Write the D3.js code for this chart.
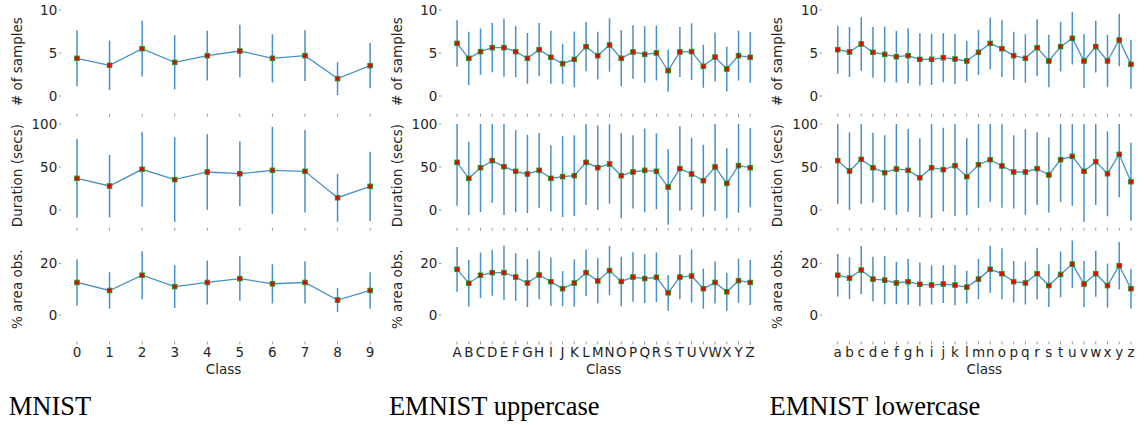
<!DOCTYPE html>
<html>
<head>
    <meta charset="UTF-8">
    <title>Per-class statistics</title>
    <style>
        body {
            margin: 0;
            padding: 0;
            background-color: #ffffff;
        }
        text {
            font-family: "DejaVu Sans", sans-serif;
            fill: #262626;
        }
        .title {
            font-family: "Liberation Serif", "Times New Roman", serif;
            font-size: 26.5px;
            fill: #000000;
        }
    </style>
    <script src="https://d3js.org/d3.v7.min.js"></script>
</head>
<body>
    <div id="chart"></div>

    <script>
        // classes
        var mnistClasses = ["0", "1", "2", "3", "4", "5", "6", "7", "8", "9"];
        var upperClasses = "ABCDEFGHIJKLMNOPQRSTUVWXYZ".split("");
        var lowerClasses = "abcdefghijklmnopqrstuvwxyz".split("");

        // MNIST
        var mnistSamplesMean = [4.38, 3.57, 5.50, 3.91, 4.69, 5.23, 4.38, 4.69, 2.02, 3.53];
        var mnistSamplesStd  = [3.26, 2.87, 3.24, 3.14, 2.89, 3.06, 2.81, 2.95, 1.90, 2.62];
        var mnistDurationMean = [36.8, 27.9, 47.3, 35.3, 44.2, 42.2, 46.1, 45.0, 14.3, 27.5];
        var mnistDurationStd  = [45.7, 36.4, 43.6, 49.2, 43.8, 37.8, 50.8, 48.0, 27.9, 40.3];
        var mnistAreaMean = [12.6, 9.5, 15.4, 11.0, 12.6, 14.1, 12.1, 12.6, 5.8, 9.5];
        var mnistAreaStd  = [8.97, 7.1, 9.3, 8.3, 8.5, 8.6, 7.6, 8.1, 4.65, 7.05];

        // EMNIST uppercase
        var upperSamplesMean = [6.12, 4.38, 5.16, 5.62, 5.62, 5.16, 4.38, 5.39, 4.50, 3.76, 4.26, 5.74, 4.69,
                                5.93, 4.38, 5.12, 4.84, 5.00, 2.95, 5.12, 5.16, 3.45, 4.53, 3.14, 4.69, 4.50];
        var upperSamplesStd  = [2.70, 3.10, 2.70, 2.87, 3.37, 2.97, 2.95, 3.10, 3.08, 2.33, 3.24, 2.87, 2.77,
                                3.12, 3.26, 3.10, 3.26, 3.20, 2.45, 2.90, 3.30, 2.50, 2.85, 2.63, 2.89, 2.95];
        var upperDurationMean = [55.4, 36.8, 49.2, 57.4, 50.4, 45.0, 41.9, 46.1, 36.8, 38.8, 39.9, 55.4, 49.2,
                                 53.5, 39.9, 44.2, 46.1, 45.0, 26.7, 48.1, 41.9, 34.1, 50.0, 31.0, 51.6, 49.2];
        var upperDurationStd  = [50.4, 42.5, 51.5, 48.9, 56.2, 47.7, 45.5, 43.4, 38.4, 46.9, 46.9, 49.6, 49.2,
                                 46.1, 49.4, 42.6, 48.6, 44.2, 43.8, 49.2, 42.2, 41.9, 51.2, 40.7, 54.7, 46.1];
        var upperAreaMean = [17.7, 12.3, 15.4, 16.4, 16.4, 14.7, 12.4, 15.5, 12.9, 10.2, 12.4, 16.4, 13.2,
                             17.2, 13.0, 14.7, 14.1, 14.6, 8.6, 14.7, 15.1, 10.2, 12.6, 9.0, 13.3, 12.6];
        var upperAreaStd  = [8.65, 9.0, 8.8, 8.9, 10.45, 9.2, 9.3, 9.4, 9.35, 6.8, 9.15, 9.0, 8.75,
                             9.5, 9.55, 9.55, 9.4, 9.55, 6.9, 8.55, 10.3, 7.75, 8.1, 7.35, 8.55, 8.7];

        // EMNIST lowercase
        var lowerSamplesMean = [5.39, 5.12, 6.05, 5.08, 4.84, 4.57, 4.69, 4.26, 4.26, 4.46, 4.30, 4.07, 5.08,
                                6.12, 5.50, 4.69, 4.38, 5.62, 4.07, 5.74, 6.71, 4.07, 5.74, 4.07, 6.51, 3.68];
        var lowerSamplesStd  = [2.79, 2.90, 3.12, 2.95, 3.25, 3.00, 3.20, 3.04, 2.97, 2.85, 2.91, 2.35, 2.62,
                                3.00, 3.30, 2.79, 2.81, 3.31, 3.06, 2.89, 3.05, 3.14, 3.02, 3.04, 3.04, 2.85];
        var lowerDurationMean = [57.4, 45.3, 58.9, 49.2, 43.4, 47.7, 46.1, 37.6, 49.2, 46.9, 51.6, 38.8, 52.7,
                                 58.5, 51.2, 44.2, 44.2, 48.1, 40.7, 58.5, 62.4, 45.0, 56.2, 42.2, 64.7, 32.9];
        var lowerDurationStd  = [50.4, 45.2, 52.3, 40.7, 43.4, 53.5, 48.4, 45.7, 58.9, 48.6, 58.6, 44.8, 50.0,
                                 48.8, 48.5, 42.6, 49.6, 42.2, 43.6, 48.8, 57.4, 58.6, 50.4, 49.4, 50.0, 45.4];
        var lowerAreaMean = [15.4, 14.3, 17.4, 13.9, 13.5, 12.4, 12.9, 11.9, 11.6, 12.0, 11.6, 10.8, 13.9,
                             17.7, 16.0, 12.9, 12.4, 16.0, 11.4, 15.7, 19.7, 12.0, 16.0, 11.4, 19.1, 10.2];
        var lowerAreaStd  = [8.25, 8.05, 9.3, 8.7, 9.35, 8.2, 8.9, 8.45, 7.55, 7.3, 7.8, 6.3, 7.8,
                             9.05, 9.85, 8.05, 8.3, 10.0, 8.25, 8.85, 9.15, 8.9, 8.9, 8.5, 9.2, 7.65];

        var titles = ["MNIST", "EMNIST uppercase", "EMNIST lowercase"];
        var rowLabels = ["# of samples", "Duration (secs)", "% area obs."];
        var rowDomains = [[-2, 10], [-20, 100], [-10, 30]];
        var rowTicks = [[0, 5, 10], [0, 50, 100], [0, 20]];

        var columns = [
            {classes: mnistClasses, rows: [
                [mnistSamplesMean, mnistSamplesStd],
                [mnistDurationMean, mnistDurationStd],
                [mnistAreaMean, mnistAreaStd]]},
            {classes: upperClasses, rows: [
                [upperSamplesMean, upperSamplesStd],
                [upperDurationMean, upperDurationStd],
                [upperAreaMean, upperAreaStd]]},
            {classes: lowerClasses, rows: [
                [lowerSamplesMean, lowerSamplesStd],
                [lowerDurationMean, lowerDurationStd],
                [lowerAreaMean, lowerAreaStd]]}
        ];

        var width = 1144, height = 425;
        var colLeft = [62.3, 442.4, 823.1],
            colWidth = 322.5;
        var rowBox = [[10, 113.2], [124, 227.2], [237.5, 340.9]];

        var lineColor = "#4a90c8",
            tickColor = "#9a9a9a";

        var svg = d3.select("#chart").append("svg")
            .attr("width", width)
            .attr("height", height);

        var defs = svg.append("defs");

        columns.forEach(function (col, c) {
            var n = col.classes.length;
            var pad = 0.05 * (n - 1);
            var x = d3.scaleLinear()
                .domain([-pad, n - 1 + pad])
                .range([colLeft[c], colLeft[c] + colWidth]);

            col.rows.forEach(function (row, r) {
                var mean = row[0], std = row[1];
                var top = rowBox[r][0], bottom = rowBox[r][1];
                var y = d3.scaleLinear()
                    .domain(rowDomains[r])
                    .range([bottom, top]);

                var clipId = "clip" + c + "_" + r;
                defs.append("clipPath").attr("id", clipId)
                    .append("rect")
                    .attr("x", colLeft[c])
                    .attr("y", top)
                    .attr("width", colWidth)
                    .attr("height", bottom - top);

                var g = svg.append("g");

                // y ticks
                var yt = g.append("g").selectAll("g")
                    .data(rowTicks[r])
                    .enter().append("g");
                yt.append("line")
                    .attr("x1", colLeft[c] - 3.5)
                    .attr("x2", colLeft[c] - 1)
                    .attr("y1", function (d) { return y(d); })
                    .attr("y2", function (d) { return y(d); })
                    .attr("stroke", tickColor)
                    .attr("stroke-width", 1);
                yt.append("text")
                    .attr("x", colLeft[c] - 5)
                    .attr("y", function (d) { return y(d); })
                    .attr("dy", "0.36em")
                    .attr("text-anchor", "end")
                    .style("font-size", "13.5px")
                    .text(function (d) { return d; });

                // x ticks
                g.append("g").selectAll("line")
                    .data(col.classes)
                    .enter().append("line")
                    .attr("x1", function (d, i) { return x(i); })
                    .attr("x2", function (d, i) { return x(i); })
                    .attr("y1", bottom + 0.5)
                    .attr("y2", bottom + 3.5)
                    .attr("stroke", tickColor)
                    .attr("stroke-width", 1);

                if (r === 2) {
                    g.append("g").selectAll("text")
                        .data(col.classes)
                        .enter().append("text")
                        .attr("x", function (d, i) { return x(i); })
                        .attr("y", 357.3)
                        .attr("text-anchor", "middle")
                        .style("font-size", "13.5px")
                        .text(function (d) { return d; });

                    g.append("text")
                        .attr("x", colLeft[c] + colWidth / 2)
                        .attr("y", 374)
                        .attr("text-anchor", "middle")
                        .style("font-size", "13.5px")
                        .text("Class");
                }

                // y label
                g.append("text")
                    .attr("transform", "translate(" + (colLeft[c] - 40.8) + "," + ((top + bottom) / 2) + ") rotate(-90)")
                    .attr("text-anchor", "middle")
                    .style("font-size", "13.5px")
                    .text(rowLabels[r]);

                var plot = g.append("g").attr("clip-path", "url(#" + clipId + ")");

                // error bars
                plot.selectAll(".err")
                    .data(mean)
                    .enter().append("line")
                    .attr("class", "err")
                    .attr("x1", function (d, i) { return x(i); })
                    .attr("x2", function (d, i) { return x(i); })
                    .attr("y1", function (d, i) { return y(d - std[i]); })
                    .attr("y2", function (d, i) { return y(d + std[i]); })
                    .attr("stroke", lineColor)
                    .attr("stroke-width", 1.5);

                // mean line
                var line = d3.line()
                    .x(function (d, i) { return x(i); })
                    .y(function (d) { return y(d); });
                plot.append("path")
                    .datum(mean)
                    .attr("d", line)
                    .attr("fill", "none")
                    .attr("stroke", lineColor)
                    .attr("stroke-width", 1.3);

                // markers
                plot.selectAll(".mk")
                    .data(mean)
                    .enter().append("rect")
                    .attr("class", "mk")
                    .attr("x", function (d, i) { return x(i) - 2.3; })
                    .attr("y", function (d) { return y(d) - 2.3; })
                    .attr("width", 4.6)
                    .attr("height", 4.6)
                    .attr("fill", "#ee0000")
                    .attr("stroke", "#1c9a1c")
                    .attr("stroke-width", 0.9);
            });

            svg.append("text")
                .attr("class", "title")
                .attr("x", colLeft[c] - 53.5)
                .attr("y", 414.5)
                .text(titles[c]);
        });
    </script>
</body>
</html>
